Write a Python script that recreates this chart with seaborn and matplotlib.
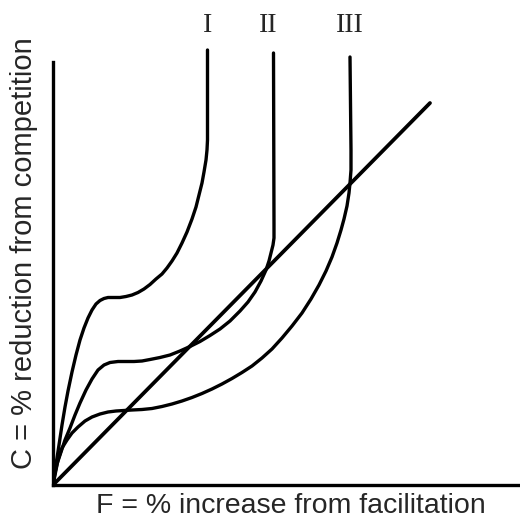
import matplotlib
matplotlib.use('Agg')
import matplotlib.pyplot as plt
import seaborn as sns
import pandas as pd

sns.set_style('white')
plt.rcParams['font.family'] = ['Liberation Sans', 'DejaVu Sans']

# curve shapes (arbitrary units, origin at the axes corner)
curve_I_x = [0, 1, 2, 4, 6, 9, 12, 15, 19, 23, 27, 31, 35, 39, 43, 47, 51, 55, 61, 67,
             73, 79, 85, 91, 97, 103, 109, 114, 119, 124, 129, 134, 139, 143, 146, 149,
             151, 153, 154, 154.5, 154.5]
curve_I_y = [0, 7, 15, 27, 40, 60, 78, 94, 113, 130, 145, 157, 167, 175, 181, 184.5, 186.5,
             187.5, 187.5, 187.5, 188.5, 190, 192.5, 196, 200.5, 206, 211, 217, 224, 232,
             242, 253, 266, 278, 290, 302, 313, 325, 335, 345, 435]

curve_II_x = [0, 2, 4, 7, 12, 17, 22, 27, 33, 39, 45, 51, 57, 65, 73, 81, 89, 97, 107, 117,
              127, 137, 147, 157, 167, 177, 187, 195, 202, 208, 213, 216, 218, 220, 221,
              221, 220.5]
curve_II_y = [0, 12, 21, 30, 45, 57, 70, 82, 95, 106, 115, 120, 122.5, 123.5, 123.5, 123.5,
              124, 125.5, 127.5, 130, 134, 138.5, 143.5, 149.5, 156, 164, 174, 183, 193,
              204, 215, 224, 232, 240, 247, 260, 432]

curve_III_x = [0, 2, 5, 9, 14, 19, 25, 32, 39, 47, 55, 63, 71, 79, 89, 99, 109, 119, 129,
               139, 149, 159, 169, 179, 189, 199, 209, 219, 229, 239, 249, 258, 266, 273,
               279, 284, 288, 291, 294, 296, 297, 298, 298, 297]
curve_III_y = [0, 10, 25, 37, 45, 52, 58, 64, 68, 71, 73, 74, 74.5, 75, 75.5, 76.5, 78.5,
               81, 84, 87.5, 91.5, 96, 101, 106.5, 112.5, 119, 127, 136, 147, 159, 172,
               186, 200, 214, 228, 242, 255, 266, 279, 292, 302, 315, 335, 428]

line_x = [0, 377]
line_y = [0, 382]

labels = ['I', 'II', 'III']
label_x = [155, 215, 297]
label_y = 459

fig = plt.figure(figsize=(5.2, 5.2), dpi=100)
ax = fig.add_axes([53 / 520, 35 / 520, 467 / 520, 465 / 520])

curves = [(curve_I_x, curve_I_y), (curve_II_x, curve_II_y), (curve_III_x, curve_III_y)]
for cx, cy in curves:
    df = pd.DataFrame({'x': cx, 'y': cy})
    sns.lineplot(data=df, x='x', y='y', sort=False, estimator=None,
                 color='black', lw=2.4, ax=ax)

sns.lineplot(x=line_x, y=line_y, color='black', lw=2.7, ax=ax)

for lab, lx in zip(labels, label_x):
    ax.text(lx, label_y, lab, ha='center', va='center', fontsize=20,
            family='Liberation Serif')

ax.set_xlim(0, 467)
ax.set_ylim(0, 465)
ax.set_xticks([])
ax.set_yticks([])
ax.set_xlabel('')
ax.set_ylabel('')
for s in ['top', 'right']:
    ax.spines[s].set_visible(False)
for s in ['left', 'bottom']:
    ax.spines[s].set_linewidth(2.4)
    ax.spines[s].set_color('black')
ax.spines['left'].set_bounds(0, 423)

fig.text(291 / 520, 1 - 513 / 520, 'F = % increase from facilitation',
         ha='center', va='baseline', fontsize=20.5)
fig.text(24 / 520, 1 - 253 / 520, 'C = % reduction from competition',
         ha='center', va='center', fontsize=21, rotation=90)

fig.savefig('out.png', dpi=100)
